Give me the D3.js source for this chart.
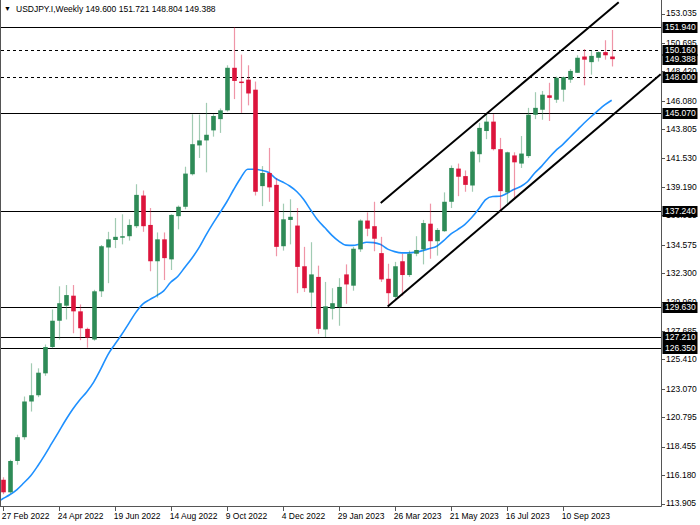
<!DOCTYPE html>
<html><head><meta charset="utf-8">
<script src="https://cdn.jsdelivr.net/npm/d3@7"></script>
<style>body{margin:0;background:#fff}svg{display:block}text{font-family:"Liberation Sans",Arial,sans-serif}</style>
</head><body><svg id="c" width="700" height="525"></svg>
<script>
// ---------- DATA ----------
const symbolTitle = "USDJPY.I,Weekly";
const headerOHLC = ["149.600", "151.721", "148.804", "149.388"];
const firstWeek = "20 Feb 2022";           // first weekly bar (Sunday start)
const open = [115.0,115.8,114.8,117.3,119.2,122.05,122.55,124.3,126.4,128.5,129.7,130.5,129.25,127.85,127.0,130.85,134.35,134.95,135.15,135.25,136.05,138.5,136.15,133.25,135.0,133.4,136.85,137.6,140.2,142.5,142.9,143.7,144.6,145.3,148.7,147.6,147.75,146.95,139.25,140.3,139.35,134.45,136.55,136.1,132.85,130.75,132.0,127.8,129.45,129.6,132.2,131.3,134.2,136.5,136.05,133.9,131.85,130.4,133.25,132.15,133.85,134.2,136.25,134.85,135.65,138.0,140.65,140.05,139.3,141.8,143.65,144.4,142.2,138.75,141.7,141.05,141.65,144.95,145.35,146.5,146.15,146.95,147.75,148.3,149.6,149.15,149.5,149.95,149.6];
const high = [115.75,116.0,117.4,119.4,122.45,125.1,124.7,126.6,129.4,131.25,131.35,131.35,129.8,127.95,130.97,134.55,135.6,136.7,137.0,136.6,139.4,138.9,137.5,135.55,135.55,137.0,137.7,140.8,144.99,144.96,145.9,145.0,145.45,148.9,151.94,149.75,148.9,147.6,140.85,142.3,139.9,137.85,138.2,137.5,134.4,134.77,132.9,131.6,131.1,131.9,133.0,134.4,136.6,137.15,138.0,135.2,133.05,133.2,133.85,134.1,135.25,136.55,137.85,135.9,138.75,140.9,141.05,140.5,142.1,144.3,145.0,145.0,143.1,142.0,141.95,143.25,145.5,146.75,146.85,147.5,148.0,148.0,148.6,149.7,150.2,150.1,150.0,150.9,151.721];
const low = [114.4,114.65,114.7,117.0,119.0,121.25,122.4,124.1,126.3,127.0,128.6,127.5,126.95,126.35,126.9,130.4,131.5,134.3,134.6,134.9,135.9,135.6,132.45,130.35,131.75,132.55,135.8,137.4,140.1,141.5,140.35,143.2,143.5,145.2,146.2,145.1,145.7,138.5,137.65,138.0,133.65,134.1,134.6,130.7,130.8,129.5,127.45,127.2,128.6,128.1,129.85,130.9,134.0,135.25,134.05,131.6,129.63,130.1,130.5,132.0,133.65,133.0,133.45,133.7,135.6,137.5,138.45,138.8,138.8,141.15,143.0,142.1,137.24,137.7,138.15,140.7,141.5,144.6,144.55,144.45,145.9,146.0,147.5,148.3,147.3,148.15,149.2,149.35,148.804];
const close = [115.55,114.8,117.3,119.2,122.05,122.55,124.35,126.4,128.5,129.9,130.55,129.25,127.9,127.15,130.85,134.45,135.0,135.2,135.25,136.15,138.55,136.05,133.25,135.0,133.5,136.95,137.6,140.25,142.6,142.9,143.35,144.85,145.3,148.7,147.65,147.5,146.65,138.8,140.3,139.15,134.4,136.6,136.8,132.8,131.1,132.2,127.85,129.65,129.9,131.2,131.4,134.25,136.5,135.85,135.05,131.8,130.7,132.85,132.15,133.85,134.15,136.3,134.85,135.75,138.0,140.7,140.0,139.35,142.0,143.9,144.4,142.2,138.85,141.95,141.15,141.85,144.95,145.5,146.55,146.3,147.9,147.95,148.45,149.5,149.35,149.65,149.95,149.7,149.388];
const movingAvg = [113.95,114.28,114.6,115.0,115.54,116.12,116.9,117.77,118.7,119.63,120.57,121.43,122.17,122.81,123.6,124.63,125.76,126.6,127.4,128.27,129.15,129.83,130.19,130.51,130.89,131.57,132.03,132.75,133.47,134.3,135.3,136.23,137.1,137.98,138.98,139.9,140.6,140.6,140.51,140.34,139.86,139.58,139.26,138.82,138.18,137.34,136.54,135.94,135.34,134.86,134.54,134.52,134.62,134.77,134.74,134.58,134.22,134.02,133.92,133.92,133.98,134.1,134.26,134.45,134.9,135.42,135.78,136.18,136.74,137.42,138.18,138.42,138.44,138.66,138.98,139.22,139.62,140.3,140.85,141.49,142.09,142.57,143.13,143.69,144.25,144.77,145.26,145.73,146.11];
const solidLevels = [151.940, 145.070, 137.240, 129.630, 127.210, 126.350];
const dashedLevels = [150.160, 148.000];
const currentPrice = 149.388;
const yTickValues = [153.035,150.695,148.420,146.080,143.805,141.530,139.190,136.915,134.575,132.300,129.960,127.685,125.410,123.070,120.795,118.455,116.180,113.905];
const xTickLabels = ["27 Feb 2022","24 Apr 2022","19 Jun 2022","14 Aug 2022","9 Oct 2022","4 Dec 2022","29 Jan 2023","26 Mar 2023","21 May 2023","16 Jul 2023","10 Sep 2023"];
// channel lines: [date, price] endpoints
const upperChannel = [["12 Mar 2023", 137.90], ["5 Nov 2023", 153.93]];
const lowerChannel = [["19 Mar 2023", 129.63], ["17 Dec 2023", 148.19]];

// ---------- SETUP ----------
const parse = d3.utcParse("%d %b %Y");
const fmt = d3.utcFormat("%-d %b %Y");
const start = parse(firstWeek);
const dates = open.map((_, i) => d3.utcWeek.offset(start, i));
const bars = dates.map((d, i) => ({d, o: open[i], h: high[i], l: low[i], c: close[i], ma: movingAvg[i]}));

const plot = {left: 1, right: 661, top: 1, bottom: 506};
const x = d3.scaleUtc().domain([parse("27 Feb 2022"), parse("10 Sep 2023")]).range([2.7, 562.7]);
const y = d3.scaleLinear().domain([113.905, 153.035]).range([503.5, 13.5]);

const svg = d3.select("#c");
svg.append("defs").append("clipPath").attr("id", "clip")
  .append("rect").attr("x", plot.left).attr("y", plot.top)
  .attr("width", plot.right - plot.left).attr("height", plot.bottom - plot.top);

const g = svg.append("g").attr("clip-path", "url(#clip)");

// horizontal levels
g.selectAll(".solid").data(solidLevels).join("line")
  .attr("x1", plot.left).attr("x2", plot.right)
  .attr("y1", d => Math.round(y(d)) + 0.5).attr("y2", d => Math.round(y(d)) + 0.5)
  .attr("stroke", "#000").attr("stroke-width", 1);
g.selectAll(".dash").data(dashedLevels).join("line")
  .attr("x1", plot.left).attr("x2", plot.right)
  .attr("y1", d => Math.round(y(d)) + 0.5).attr("y2", d => Math.round(y(d)) + 0.5)
  .attr("stroke", "#000").attr("stroke-width", 1).attr("stroke-dasharray", "3,3");

// moving average
g.append("path").datum(bars)
  .attr("fill", "none").attr("stroke", "#1e90ff").attr("stroke-width", 1.6)
  .attr("d", d3.line().x(b => x(b.d)).y(b => y(b.ma)).curve(d3.curveMonotoneX));

// candles
const up = "#2e8b57", dn = "#dc143c";
const cg = g.selectAll(".candle").data(bars).join("g");
cg.append("line")
  .attr("x1", b => Math.round(x(b.d)) + 0.5).attr("x2", b => Math.round(x(b.d)) + 0.5)
  .attr("y1", b => y(b.h)).attr("y2", b => y(b.l))
  .attr("stroke", b => b.c >= b.o ? up : dn).attr("stroke-opacity", 0.45).attr("stroke-width", 1.2);
cg.append("rect")
  .attr("x", b => Math.round(x(b.d)) - 1.8).attr("width", 4.6)
  .attr("y", b => y(Math.max(b.o, b.c)))
  .attr("height", b => Math.max(1.5, Math.abs(y(b.o) - y(b.c))))
  .attr("fill", b => b.c >= b.o ? up : dn);

// channel lines
[upperChannel, lowerChannel].forEach(ch => {
  g.append("line")
    .attr("x1", x(parse(ch[0][0]))).attr("y1", y(ch[0][1]))
    .attr("x2", x(parse(ch[1][0]))).attr("y2", y(ch[1][1]))
    .attr("stroke", "#000").attr("stroke-width", 2);
});

// frame / axes
svg.append("line").attr("x1", plot.right + 0.5).attr("x2", plot.right + 0.5)
  .attr("y1", 0).attr("y2", plot.bottom + 0.5).attr("stroke", "#555");
svg.append("line").attr("x1", 0).attr("x2", plot.right + 0.5)
  .attr("y1", plot.bottom + 0.5).attr("y2", plot.bottom + 0.5).attr("stroke", "#555");
svg.append("line").attr("x1", 0.5).attr("x2", 0.5)
  .attr("y1", 0).attr("y2", plot.bottom + 0.5).attr("stroke", "#555");

// right axis
const yAxis = svg.append("g");
yAxis.selectAll("line").data(yTickValues).join("line")
  .attr("x1", plot.right).attr("x2", plot.right + 4)
  .attr("y1", d => Math.round(y(d)) + 0.5).attr("y2", d => Math.round(y(d)) + 0.5)
  .attr("stroke", "#555");
yAxis.selectAll("text").data(yTickValues).join("text")
  .attr("x", plot.right + 5).attr("y", d => y(d)).attr("dy", "0.35em")
  .attr("font-size", 8.5).attr("fill", "#000")
  .text(d => d.toFixed(3));

// price boxes
const boxes = solidLevels.concat(dashedLevels, [currentPrice]);
const bx = svg.append("g").selectAll("g").data(boxes).join("g");
bx.append("rect").attr("x", plot.right + 1.5).attr("width", 35).attr("height", 11)
  .attr("y", d => Math.round(y(d)) - 5).attr("fill", "#000");
bx.append("text").attr("x", plot.right + 4).attr("y", d => Math.round(y(d)) + 0.5).attr("dy", "0.35em")
  .attr("font-size", 8.5).attr("fill", "#fff").text(d => d.toFixed(3));

// bottom axis
const xt = xTickLabels.map(parse);
const xAxis = svg.append("g");
xAxis.selectAll("line").data(xt).join("line")
  .attr("x1", d => Math.round(x(d)) + 0.5).attr("x2", d => Math.round(x(d)) + 0.5)
  .attr("y1", plot.bottom).attr("y2", plot.bottom + 5).attr("stroke", "#555");
xAxis.selectAll("text").data(xt).join("text")
  .attr("x", d => x(d) - 1).attr("y", 518.5)
  .attr("font-size", 8.5).attr("fill", "#000").text(d => fmt(d));

// title
svg.append("text").attr("x", 4).attr("y", 11).attr("font-size", 7).text("\u25BC");
svg.append("text").attr("x", 16).attr("y", 11.5).attr("font-size", 8.5)
  .text(symbolTitle + "  " + headerOHLC.join(" "));
</script></body></html>
